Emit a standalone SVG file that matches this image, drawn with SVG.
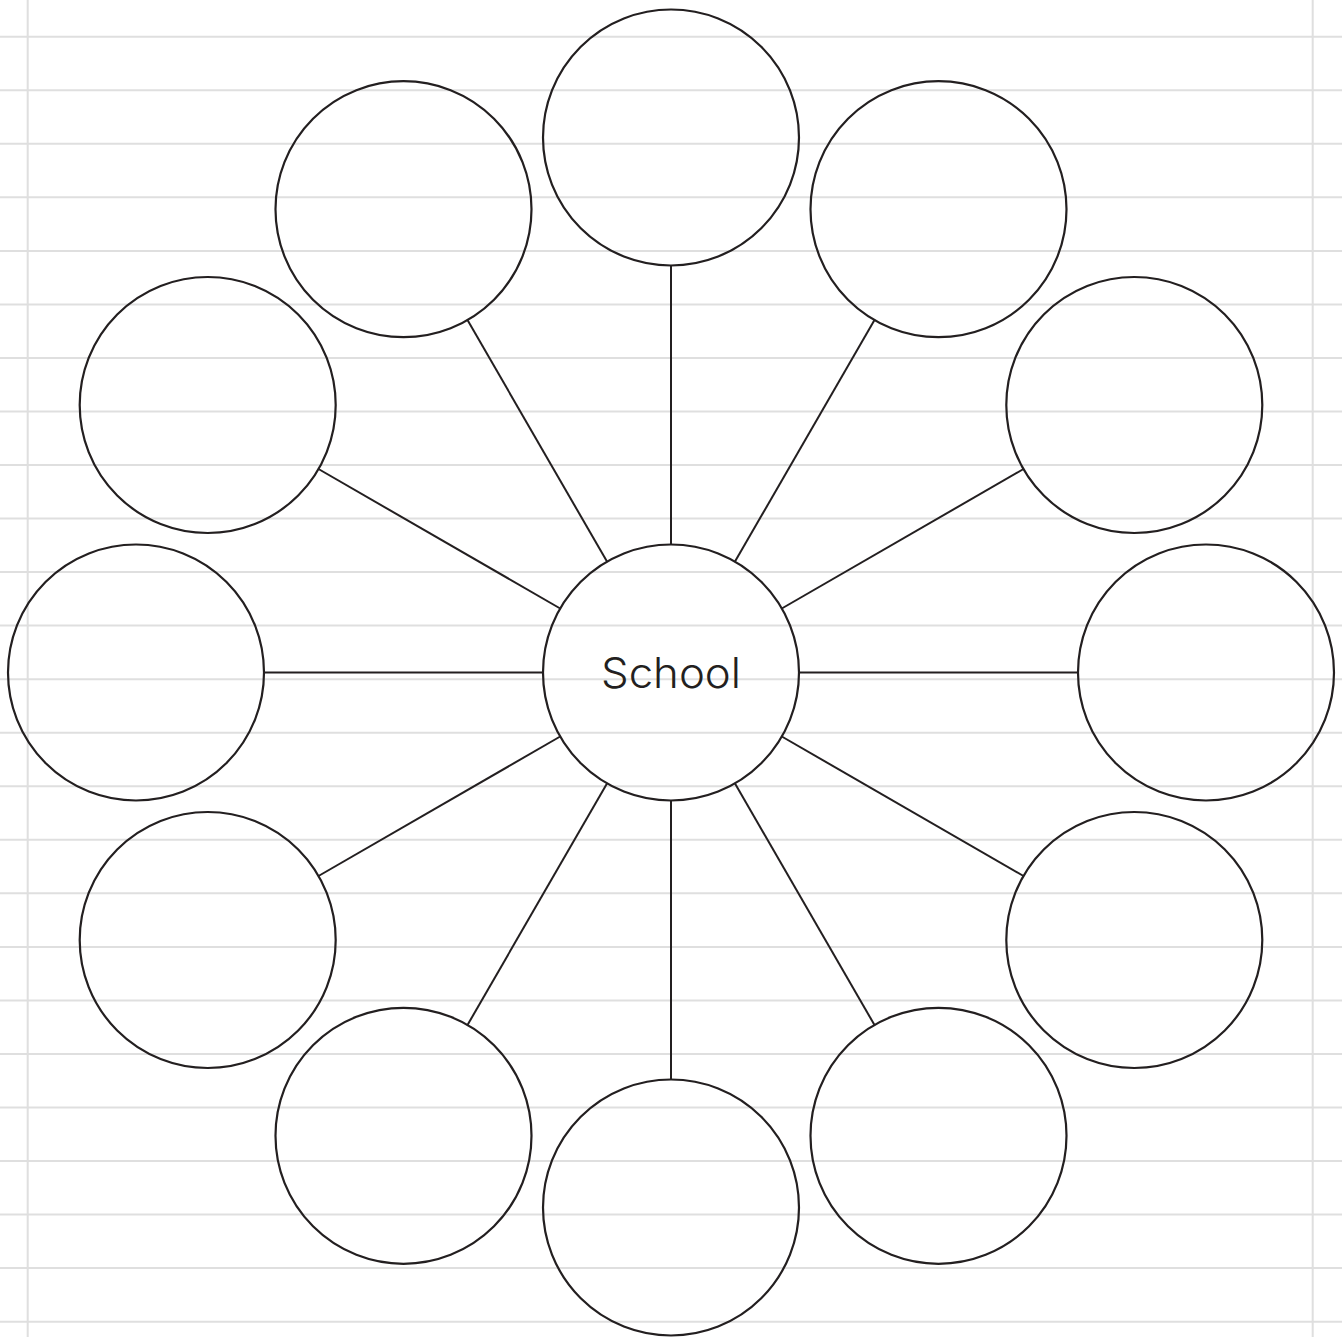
<svg xmlns="http://www.w3.org/2000/svg" width="1342" height="1337" viewBox="0 0 1342 1337">
<style>
.grid line{stroke:#dfdfdf;stroke-width:2}
.node{fill:none;stroke:#231f20;stroke-width:2.2}
.conn line{stroke:#231f20;stroke-width:2}
.label{font-family:Inter,"Open Sans",sans-serif;font-weight:300;font-size:42px;fill:#231f20;text-anchor:middle}
</style>
<rect width="1342" height="1337" fill="#ffffff"/>
<g class="grid" id="grid">
<line x1="0" y1="36.7" x2="1342" y2="36.7"/>
<line x1="0" y1="90.2" x2="1342" y2="90.2"/>
<line x1="0" y1="143.8" x2="1342" y2="143.8"/>
<line x1="0" y1="197.3" x2="1342" y2="197.3"/>
<line x1="0" y1="250.9" x2="1342" y2="250.9"/>
<line x1="0" y1="304.4" x2="1342" y2="304.4"/>
<line x1="0" y1="357.9" x2="1342" y2="357.9"/>
<line x1="0" y1="411.5" x2="1342" y2="411.5"/>
<line x1="0" y1="465.0" x2="1342" y2="465.0"/>
<line x1="0" y1="518.6" x2="1342" y2="518.6"/>
<line x1="0" y1="572.1" x2="1342" y2="572.1"/>
<line x1="0" y1="625.6" x2="1342" y2="625.6"/>
<line x1="0" y1="679.2" x2="1342" y2="679.2"/>
<line x1="0" y1="732.7" x2="1342" y2="732.7"/>
<line x1="0" y1="786.3" x2="1342" y2="786.3"/>
<line x1="0" y1="839.8" x2="1342" y2="839.8"/>
<line x1="0" y1="893.3" x2="1342" y2="893.3"/>
<line x1="0" y1="946.9" x2="1342" y2="946.9"/>
<line x1="0" y1="1000.4" x2="1342" y2="1000.4"/>
<line x1="0" y1="1054.0" x2="1342" y2="1054.0"/>
<line x1="0" y1="1107.5" x2="1342" y2="1107.5"/>
<line x1="0" y1="1161.0" x2="1342" y2="1161.0"/>
<line x1="0" y1="1214.6" x2="1342" y2="1214.6"/>
<line x1="0" y1="1268.1" x2="1342" y2="1268.1"/>
<line x1="0" y1="1321.7" x2="1342" y2="1321.7"/>
<line x1="27.7" y1="0" x2="27.7" y2="1337"/>
<line x1="1312.7" y1="0" x2="1312.7" y2="1337"/>
</g>
<g class="conn" id="connectors">
<line x1="671" y1="544.5" x2="671" y2="265.5"/>
<line x1="735" y1="561.6" x2="874.5" y2="320"/>
<line x1="781.8" y1="608.5" x2="1023.5" y2="469"/>
<line x1="799" y1="672.5" x2="1078" y2="672.5"/>
<line x1="781.8" y1="736.5" x2="1023.5" y2="876"/>
<line x1="735" y1="783.4" x2="874.5" y2="1025"/>
<line x1="671" y1="800.5" x2="671" y2="1079.5"/>
<line x1="607" y1="783.4" x2="467.5" y2="1025"/>
<line x1="560.2" y1="736.5" x2="318.5" y2="876"/>
<line x1="543" y1="672.5" x2="264" y2="672.5"/>
<line x1="560.2" y1="608.5" x2="318.5" y2="469"/>
<line x1="607" y1="561.6" x2="467.5" y2="320"/>
</g>
<g id="center"><circle class="node" cx="671" cy="672.5" r="128"/><text class="label" x="671" y="688" textLength="140" lengthAdjust="spacingAndGlyphs">School</text></g>
<g id="n0"><circle class="node" cx="671" cy="137.5" r="128"/></g>
<g id="n1"><circle class="node" cx="938.5" cy="209.2" r="128"/></g>
<g id="n2"><circle class="node" cx="1134.3" cy="405" r="128"/></g>
<g id="n3"><circle class="node" cx="1206" cy="672.5" r="128"/></g>
<g id="n4"><circle class="node" cx="1134.3" cy="940" r="128"/></g>
<g id="n5"><circle class="node" cx="938.5" cy="1135.8" r="128"/></g>
<g id="n6"><circle class="node" cx="671" cy="1207.5" r="128"/></g>
<g id="n7"><circle class="node" cx="403.5" cy="1135.8" r="128"/></g>
<g id="n8"><circle class="node" cx="207.7" cy="940" r="128"/></g>
<g id="n9"><circle class="node" cx="136" cy="672.5" r="128"/></g>
<g id="n10"><circle class="node" cx="207.7" cy="405" r="128"/></g>
<g id="n11"><circle class="node" cx="403.5" cy="209.2" r="128"/></g>
</svg>
